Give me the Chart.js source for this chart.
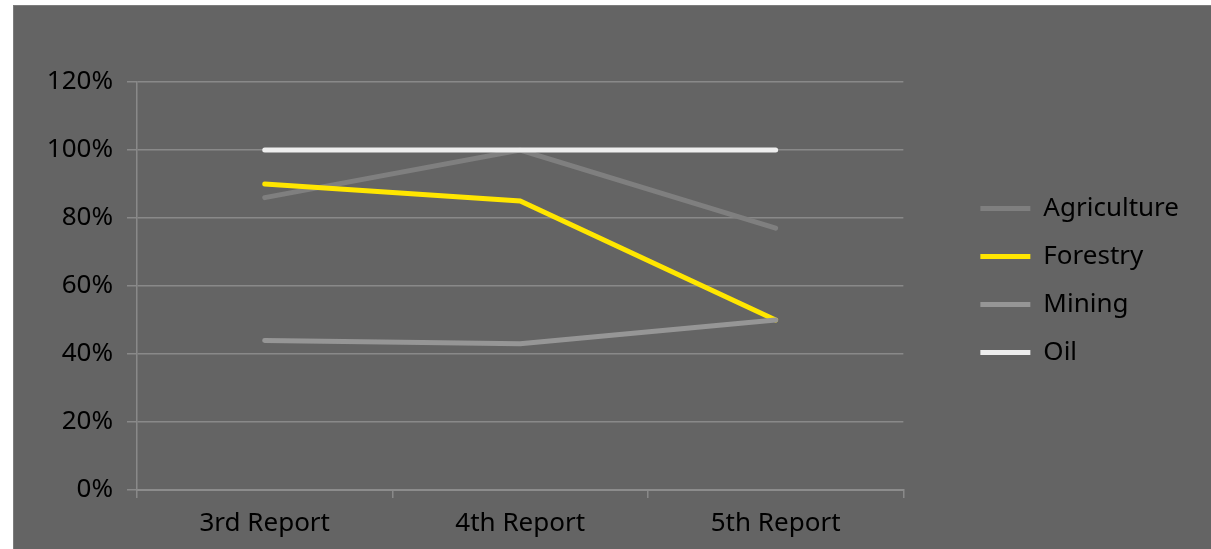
<!DOCTYPE html>
<html>
<head>
<meta charset="utf-8">
<script src="https://cdn.jsdelivr.net/npm/chart.js@4.4.1/dist/chart.umd.min.js"></script>
<style>
  html, body { margin: 0; padding: 0; background: #fff; overflow: hidden; }
  #wrap {
    position: absolute; left: 13px; top: 5px;
    width: 1198px; height: 544px;
    background: #646464;
    border-left: 1px solid #7c7c7c; border-top: 1px solid #7c7c7c;
  }
  canvas { display: block; }
</style>
</head>
<body>
<div id="wrap"><canvas id="report" width="1198" height="544"></canvas></div>
<script>
// values (percent)
var categories = ['3rd Report', '4th Report', '5th Report'];
var agriculture = [86, 100, 77];
var forestry = [90, 85, 50];
var mining = [44, 43, 50];
var oil = [100, 100, 100];
var yMax = 120;
var yStep = 20;

var gridColor = '#898989';

Chart.defaults.font.family = "'Noto Sans', sans-serif";
Chart.defaults.font.size = 26;
Chart.defaults.color = '#000';

function line(label, data, color, order) {
  return {
    label: label,
    data: data,
    borderColor: color,
    backgroundColor: color,
    borderWidth: 5,
    borderCapStyle: 'round',
    pointRadius: 0,
    pointHoverRadius: 0,
    tension: 0,
    fill: false,
    order: order
  };
}

var ctx = document.getElementById('report').getContext('2d');
new Chart(ctx, {
  type: 'line',
  data: {
    labels: categories,
    datasets: [
      line('Agriculture', agriculture, '#7f7f7f', 4),
      line('Forestry', forestry, '#ffe600', 3),
      line('Mining', mining, '#969696', 2),
      line('Oil', oil, '#eeeeee', 1)
    ]
  },
  options: {
    responsive: false,
    animation: false,
    layout: { padding: { top: 5, left: 0, right: 23, bottom: 0 } },
    plugins: {
      tooltip: { enabled: false },
      // empty title only used as top spacing
      title: { display: true, text: '', padding: 0, font: { size: 71, lineHeight: 1 } },
      legend: {
        position: 'right',
        align: 'center',
        fullSize: true,
        labels: {
          usePointStyle: true,
          pointStyle: 'line',
          pointStyleWidth: 50,
          padding: 22,
          font: { size: 26 },
          color: '#000',
          sort: function (a, b) { return a.datasetIndex - b.datasetIndex; }
        }
      }
    },
    scales: {
      x: {
        type: 'category',
        offset: true,
        grid: { offset: true, drawOnChartArea: false, color: gridColor, lineWidth: 1.5, tickLength: 8 },
        border: { color: '#8c8c8c', width: 2 },
        ticks: { padding: 10, maxRotation: 0 },
        afterFit: function (s) { s.height = 60; }
      },
      y: {
        min: 0,
        max: yMax,
        ticks: {
          stepSize: yStep,
          padding: 14,
          callback: function (v) { return v + '%'; }
        },
        grid: { color: gridColor, lineWidth: 1.5, tickLength: 10 },
        border: { color: gridColor, width: 1.5 },
        afterFit: function (s) { s.width = 123; }
      },
      // hidden spacer between plot and legend
      gap: {
        position: 'right',
        display: false,
        afterFit: function (s) { s.width = 55; }
      }
    }
  }
});
</script>
</body>
</html>
